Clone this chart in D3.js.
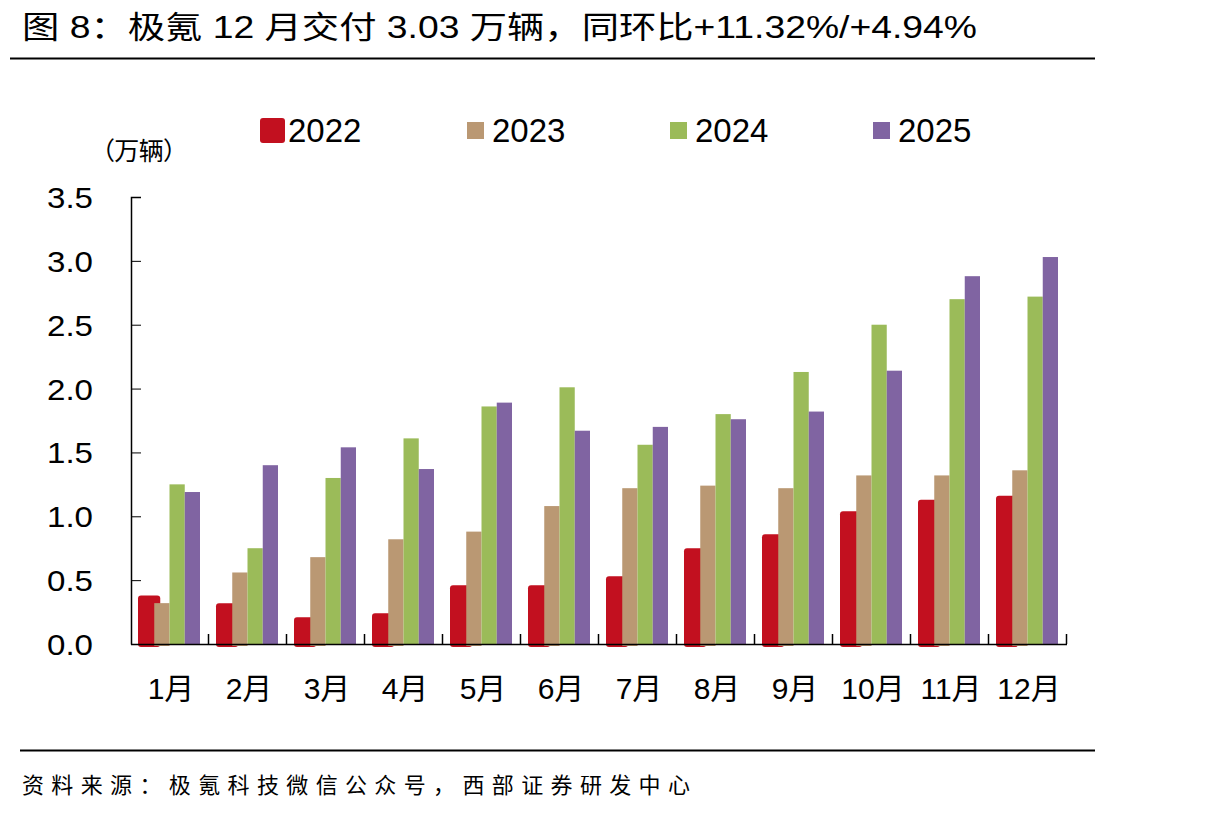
<!DOCTYPE html>
<html>
<head>
<meta charset="utf-8">
<script src="https://cdn.jsdelivr.net/npm/d3@7"></script>
<style>
  body { margin: 0; background: #fff; }
  svg { display: block; }
</style>
</head>
<body>
<div id="chart"></div>
<script>
// Data (万辆)
var months = ["1月", "2月", "3月", "4月", "5月", "6月", "7月", "8月", "9月", "10月", "11月", "12月"];
var years = ["2022", "2023", "2024", "2025"];
var v2022 = [0.38, 0.32, 0.21, 0.24, 0.46, 0.46, 0.53, 0.75, 0.86, 1.04, 1.13, 1.16];
var v2023 = [0.32, 0.56, 0.68, 0.82, 0.88, 1.08, 1.22, 1.24, 1.22, 1.32, 1.32, 1.36];
var v2024 = [1.25, 0.75, 1.30, 1.61, 1.86, 2.01, 1.56, 1.80, 2.13, 2.50, 2.70, 2.72];
var v2025 = [1.19, 1.40, 1.54, 1.37, 1.89, 1.67, 1.70, 1.76, 1.82, 2.14, 2.88, 3.03];
var yTicks = [0, 0.5, 1.0, 1.5, 2.0, 2.5, 3.0, 3.5];
var colors = ["#C2101F", "#BA9873", "#9BBB59", "#8064A2"];
var series = [v2022, v2023, v2024, v2025];

var w = 1215, h = 816;
var svg = d3.select("#chart").append("svg")
    .attr("width", w)
    .attr("height", h);

var cjk = "'Liberation Sans', 'Noto Sans CJK SC', sans-serif";

// title + rules
svg.append("text")
    .attr("x", 22).attr("y", 38)
    .attr("font-family", cjk)
    .attr("font-size", 31)
    .attr("textLength", 955)
    .attr("lengthAdjust", "spacingAndGlyphs")
    .attr("fill", "#000")
    .text("图 8：极氪 12 月交付 3.03 万辆，同环比+11.32%/+4.94%");

svg.append("line").attr("x1", 10).attr("x2", 1095).attr("y1", 58.5).attr("y2", 58.5)
    .attr("stroke", "#000").attr("stroke-width", 2);
svg.append("line").attr("x1", 20).attr("x2", 1095).attr("y1", 750.5).attr("y2", 750.5)
    .attr("stroke", "#000").attr("stroke-width", 2);

svg.append("text")
    .attr("x", 22).attr("y", 793)
    .attr("font-family", "'Noto Sans CJK SC', sans-serif")
    .attr("font-size", 22)
    .attr("textLength", 668)
    .attr("fill", "#000")
    .text("资料来源：极氪科技微信公众号，西部证券研发中心");

// scales
var x0 = d3.scaleBand().domain(months).range([131, 1067]).padding(0);
var x1 = d3.scaleBand().domain(years).range([8, 69]).padding(0);
var y = d3.scaleLinear().domain([0, 3.5]).range([644, 197]);

// bars: draw 2022 first (wider, rounded) then the others on top
var groups = svg.selectAll("g.month")
    .data(months)
    .enter().append("g")
    .attr("class", "month")
    .attr("transform", function (d) { return "translate(" + x0(d) + ",0)"; });

groups.append("rect")
    .attr("x", x1("2022") - 1)
    .attr("y", function (d, i) { return y(v2022[i]); })
    .attr("width", x1.bandwidth() + 7)
    .attr("height", function (d, i) { return y(0) - y(v2022[i]) + 3; })
    .attr("rx", 3)
    .attr("fill", colors[0]);

[1, 2, 3].forEach(function (s) {
    groups.append("rect")
        .attr("x", x1(years[s]))
        .attr("y", function (d, i) { return y(series[s][i]); })
        .attr("width", x1.bandwidth())
        .attr("height", function (d, i) { return y(0) - y(series[s][i]) + (s === 1 ? 2 : 0); })
        .attr("fill", colors[s]);
});

// y axis (ticks pointing inward)
var yAxis = d3.axisRight(y).tickValues(yTicks).tickSize(10).tickFormat("");
var ya = svg.append("g").attr("transform", "translate(131,0)").call(yAxis);
ya.select(".domain").attr("d", "M10,197.5H0.5V644.5");
ya.selectAll("line").attr("stroke", "#000");
ya.select(".domain").attr("stroke", "#000").attr("stroke-width", 1.5);

svg.selectAll("text.ylab")
    .data(yTicks)
    .enter().append("text")
    .attr("class", "ylab")
    .attr("x", 93)
    .attr("y", function (d) { return y(d) + 11; })
    .attr("text-anchor", "end")
    .attr("font-family", "'Liberation Sans', Arial, sans-serif")
    .attr("font-size", 30)
    .attr("textLength", 46)
    .attr("lengthAdjust", "spacingAndGlyphs")
    .text(function (d) { return d.toFixed(1); });

// x axis: baseline + boundary ticks pointing up
svg.append("line").attr("x1", 131).attr("x2", 1067).attr("y1", 644.5).attr("y2", 644.5)
    .attr("stroke", "#000").attr("stroke-width", 1.5);
var bounds = months.map(function (m) { return x0(m) + x0.bandwidth(); });
svg.selectAll("line.xt")
    .data(bounds)
    .enter().append("line")
    .attr("class", "xt")
    .attr("x1", function (d) { return Math.round(d) - 0.5; })
    .attr("x2", function (d) { return Math.round(d) - 0.5; })
    .attr("y1", 644).attr("y2", 634)
    .attr("stroke", "#000").attr("stroke-width", 1.5);

svg.selectAll("text.xlab")
    .data(months)
    .enter().append("text")
    .attr("class", "xlab")
    .attr("x", function (d) { return x0(d) + x0.bandwidth() / 2 + 1; })
    .attr("y", 699)
    .attr("text-anchor", "middle")
    .attr("font-family", cjk)
    .attr("font-size", 30)
    .text(function (d) { return d; });

// unit label
svg.append("text")
    .attr("x", 90).attr("y", 160)
    .attr("font-family", "'Noto Sans CJK SC', sans-serif")
    .attr("font-size", 25)
    .attr("textLength", 98)
    .text("（万辆）");

// legend
var legX = [260, 467, 670, 873];
var leg = svg.selectAll("g.leg")
    .data(years)
    .enter().append("g")
    .attr("class", "leg")
    .attr("transform", function (d, i) { return "translate(" + legX[i] + ",0)"; });
leg.append("rect")
    .attr("x", 0)
    .attr("y", function (d, i) { return i === 0 ? 118 : 122; })
    .attr("width", function (d, i) { return i === 0 ? 25 : 17; })
    .attr("height", function (d, i) { return i === 0 ? 25 : 17; })
    .attr("rx", function (d, i) { return i === 0 ? 3 : 0; })
    .attr("fill", function (d, i) { return colors[i]; });
leg.append("text")
    .attr("x", function (d, i) { return i === 0 ? 28 : 25; })
    .attr("y", 142)
    .attr("font-family", "'Liberation Sans', Arial, sans-serif")
    .attr("font-size", 33)
    .text(function (d) { return d; });
</script>
</body>
</html>
